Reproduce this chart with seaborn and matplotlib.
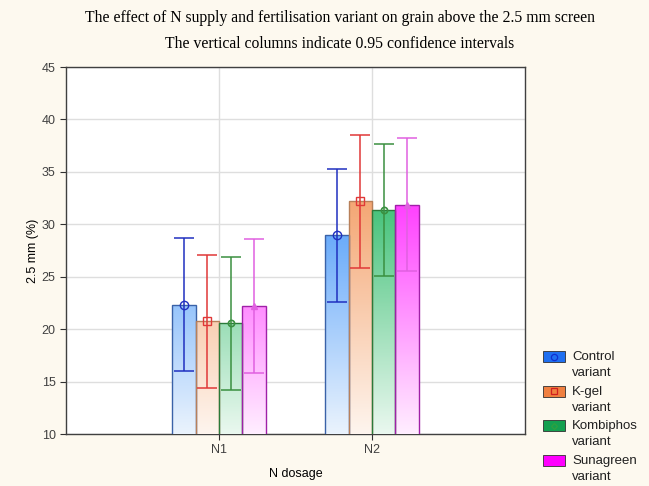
import numpy as np
import pandas as pd
import matplotlib
matplotlib.use("Agg")
import matplotlib.pyplot as plt
import seaborn as sns
from matplotlib.colors import LinearSegmentedColormap
from matplotlib.patches import Rectangle
from matplotlib.lines import Line2D

categories = ["N1", "N2"]
variants = ["Control\nvariant", "K-gel\nvariant", "Kombiphos\nvariant", "Sunagreen\nvariant"]
means = {
    "Control\nvariant":   [22.3, 29.0],
    "K-gel\nvariant":     [20.8, 32.2],
    "Kombiphos\nvariant": [20.6, 31.4],
    "Sunagreen\nvariant": [22.2, 31.8],
}
ci_upper = {
    "Control\nvariant":   [28.7, 35.3],
    "K-gel\nvariant":     [27.1, 38.5],
    "Kombiphos\nvariant": [26.9, 37.7],
    "Sunagreen\nvariant": [28.6, 38.2],
}
ci_lower = {
    "Control\nvariant":   [16.0, 22.6],
    "K-gel\nvariant":     [14.4, 25.8],
    "Kombiphos\nvariant": [14.2, 25.1],
    "Sunagreen\nvariant": [15.8, 25.5],
}
yticks = [10, 15, 20, 25, 30, 35, 40, 45]

top_colors = ["#4f9cfa", "#f4a470", "#3cbf74", "#ff38ff"]
bottom_colors = ["#eaf3fd", "#fef5ee", "#eaf8ef", "#ffeeff"]
edge_colors = ["#3a62a8", "#b8805a", "#2a7a3a", "#a020a8"]
err_colors = ["#2030c0", "#e03838", "#3a9040", "#e060e0"]
legend_colors = ["#1f6ff0", "#f08040", "#14a050", "#ff00ff"]
legend_marker_colors = ["#1030d0", "#d02020", "#30a040", None]

rows = []
for v in variants:
    for c, m in zip(categories, means[v]):
        rows.append({"dosage": c, "variant": v, "value": m})
df = pd.DataFrame(rows)

bg = "#fdf9ef"
fig = plt.figure(figsize=(6.49, 4.86), dpi=100, facecolor=bg)
ax = fig.add_axes([66/649, 1-434/486, (525-66)/649, (434-67)/486])
ax.set_facecolor("white")

sns.barplot(data=df, x="dosage", y="value", hue="variant", order=categories,
            hue_order=variants, palette=top_colors, width=0.61, gap=0,
            errorbar=None, ax=ax, legend=False, zorder=3)

ax.set_xlim(-1, 2)
ax.set_ylim(10, 45)

bars = ax.patches[:len(variants)*len(categories)]
for i, p in enumerate(bars):
    vi = i // len(categories)
    ci = i % len(categories)
    x0, w = p.get_x(), p.get_width()
    y0, h = p.get_y(), p.get_height()
    cmap = LinearSegmentedColormap.from_list("g", [bottom_colors[vi], top_colors[vi]])
    grad = np.clip(np.linspace(0, 35/23, 256), 0, 1).reshape(-1, 1)
    im = ax.imshow(grad, cmap=cmap, vmin=0, vmax=1, aspect="auto", origin="lower",
                   extent=[x0, x0 + w, 10, 45], zorder=3, interpolation="bilinear")
    im.set_clip_path(p)
    p.set_facecolor("none")
    p.set_edgecolor(edge_colors[vi])
    p.set_linewidth(1.0)
    p.set_zorder(4)
    xc = x0 + w / 2
    m = means[variants[vi]][ci]
    lo = ci_lower[variants[vi]][ci]
    hi = ci_upper[variants[vi]][ci]
    ax.errorbar([xc], [m], yerr=[[m - lo], [hi - m]], fmt="none",
                ecolor=err_colors[vi], elinewidth=1.1, capsize=7, capthick=1.1, zorder=5)
    if vi == 3:
        ax.plot([xc], [m], marker="^", mfc=err_colors[vi], mec=err_colors[vi],
                ms=5, mew=1.0, zorder=6)
    elif vi == 2:
        ax.plot([xc], [m], marker="o", mfc="none", mec=err_colors[vi],
                ms=4.5, mew=1.2, zorder=6)
    else:
        ax.plot([xc], [m], marker=["o", "s"][vi], mfc="none", mec=err_colors[vi],
                ms=6, mew=1.0, zorder=6)

ax.set_xticks([0, 1])
ax.set_xticklabels(categories)
ax.set_yticks(yticks)
ax.grid(True, color="#dedede", linewidth=1.0, zorder=0)
ax.set_axisbelow(True)
for s in ax.spines.values():
    s.set_color("#404040")
    s.set_linewidth(1.0)
ax.tick_params(axis="both", labelsize=9, colors="#303030", length=4, width=0.8)
ax.tick_params(axis="both", labelcolor="#404040")
for lbl in ax.get_xticklabels() + ax.get_yticklabels():
    lbl.set_fontfamily("Liberation Sans")
ax.set_xlabel("N dosage", fontsize=9, family="Liberation Sans", labelpad=8)
ax.set_ylabel("2.5 mm (%)", fontsize=9, family="Liberation Sans", labelpad=2)

fig.text(340/649, 1-18/486, "The effect of N supply and fertilisation variant on grain above the 2.5 mm screen",
         ha="center", va="center", fontsize=11.3, family="Liberation Serif")
fig.text(340/649, 1-44/486, "The vertical columns indicate 0.95 confidence intervals",
         ha="center", va="center", fontsize=11.3, family="Liberation Serif")

# legend (drawn in figure pixel coordinates)
W, H = 649, 486
for vi, v in enumerate(variants):
    ytop = 351 + vi * 34.5
    rect = Rectangle((543/W, 1 - (ytop + 11)/H), 22/W, 11/H, transform=fig.transFigure,
                     facecolor=legend_colors[vi], edgecolor="#303030", linewidth=0.6)
    fig.add_artist(rect)
    mc = legend_marker_colors[vi]
    if mc is not None:
        mk = ["o", "s", "D"][vi]
        fig.add_artist(Line2D([554/W], [1 - (ytop + 5.5)/H], transform=fig.transFigure,
                              marker=mk, mfc="none", mec=mc, ms=[4.5, 5, 3][vi], mew=0.9,
                              linestyle="none"))
    first, second = v.split("\n")
    fig.text(572/W, 1 - (ytop + 6)/H, first, ha="left", va="center", fontsize=9.5,
             family="Liberation Sans", color="#202020")
    fig.text(572/W, 1 - (ytop + 22)/H, second, ha="left", va="center", fontsize=9.5,
             family="Liberation Sans", color="#202020")

fig.savefig("out.png", dpi=100, facecolor=bg)
